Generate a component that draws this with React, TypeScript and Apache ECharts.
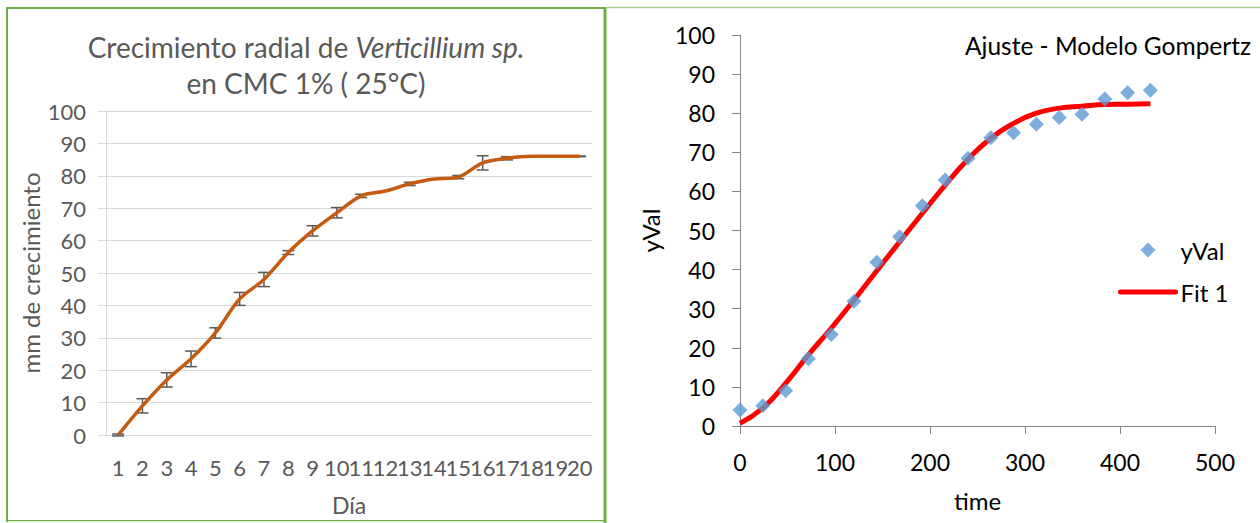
import React, { useEffect, useRef } from "react";
import * as echarts from "echarts";

// ---- Left chart data ----
const days = ["1","2","3","4","5","6","7","8","9","10","11","12","13","14","15","16","17","18","19","20"];
const growth = [0, 9, 17, 23.5, 31.5, 42, 48, 56.3, 63, 68.6, 73.8, 75.3, 77.5, 79, 79.6, 84, 85.4, 86, 86, 86];
const growthErr = [0.3, 2.2, 2.2, 2.4, 1.6, 2, 2.2, 0.6, 1.6, 1.6, 0.5, 0, 0.5, 0, 0.5, 2.2, 0.5, 0, 0, 0.1];

// ---- Right chart data ----
const timeH = [0, 24, 48, 72, 96, 120, 144, 168, 192, 216, 240, 264, 288, 312, 336, 360, 384, 408, 432];
const yVal = [4.1, 5.2, 9.0, 17.2, 23.4, 31.9, 41.9, 48.4, 56.3, 62.9, 68.5, 73.7, 75.0, 77.2, 78.9, 79.7, 83.6, 85.2, 85.9];
const fitVal = [0.7, 4.6, 10.9, 18.2, 25, 32.2, 39.7, 47.1, 54.4, 61.6, 68.2, 73.6, 77.4, 80.0, 81.3, 81.8, 82.2, 82.3, 82.4];

const FONT = "Lato";
const GREY = "#595959";
const DIAMOND = "path://M50,0 L100,50 L50,100 L0,50 Z";

export default function App() {
  const ref = useRef<HTMLDivElement>(null);
  useEffect(() => {
    document.body.style.margin = "0";
    const chart = echarts.init(ref.current!, null, { renderer: "svg" });
    const option: any = {
      animation: false,
      backgroundColor: "#ffffff",
      textStyle: { fontFamily: FONT },
      title: [
        {
          text: "Crecimiento radial de {i|Verticillium sp.}\nen CMC 1% ( 25°C)",
          left: 306,
          top: 29,
          padding: 0,
          textAlign: "center",
          textStyle: {
            fontFamily: FONT,
            fontSize: 28,
            fontWeight: "normal",
            color: GREY,
            lineHeight: 36,
            rich: {
              i: { fontFamily: FONT, fontSize: 28, fontStyle: "italic", color: GREY, lineHeight: 36 },
            },
          },
        },
        {
          text: "Ajuste - Modelo Gompertz",
          left: 965,
          top: 33,
          padding: 0,
          textStyle: { fontFamily: FONT, fontSize: 24.5, fontWeight: "normal", color: "#000000" },
        },
      ],
      legend: {
        orient: "vertical",
        left: 1118,
        top: 238,
        padding: 0,
        itemWidth: 55,
        itemHeight: 15,
        itemGap: 18,
        data: [
          { name: "yVal" },
          {
            name: "Fit 1",
            itemStyle: { opacity: 0, borderWidth: 0 },
            lineStyle: { color: "#FF0000", width: 5, cap: "round" },
          },
        ],
        textStyle: { fontFamily: FONT, fontSize: 24, color: "#000000", lineHeight: 24 },
      },
      grid: [
        { left: 106, top: 111, width: 486, height: 324 },
        { left: 740, top: 35, width: 475, height: 391 },
      ],
      xAxis: [
        {
          gridIndex: 0,
          type: "category",
          data: days,
          boundaryGap: true,
          name: "Día",
          nameLocation: "middle",
          nameGap: 58,
          nameTextStyle: { fontFamily: FONT, fontSize: 23, color: GREY },
          axisLine: { lineStyle: { color: "#D9D9D9", width: 1 } },
          axisTick: { show: false },
          axisLabel: { interval: 0, margin: 21, fontFamily: FONT, fontSize: 22, color: GREY },
          splitLine: { show: false },
        },
        {
          gridIndex: 1,
          type: "value",
          min: 0,
          max: 500,
          interval: 100,
          name: "time",
          nameLocation: "middle",
          nameGap: 62,
          nameTextStyle: { fontFamily: FONT, fontSize: 24, color: "#000000" },
          axisLine: { lineStyle: { color: "#868686", width: 1 } },
          axisTick: { show: true, inside: false, length: 8, lineStyle: { color: "#868686" } },
          axisLabel: { margin: 24, fontFamily: FONT, fontSize: 23, color: "#000000" },
          splitLine: { show: false },
        },
      ],
      yAxis: [
        {
          gridIndex: 0,
          type: "value",
          min: 0,
          max: 100,
          interval: 10,
          name: "mm de crecimiento",
          nameLocation: "middle",
          nameGap: 64,
          nameTextStyle: { fontFamily: FONT, fontSize: 24, color: GREY },
          axisLine: { show: true, lineStyle: { color: "#D9D9D9", width: 1 } },
          axisTick: { show: true, length: 8, lineStyle: { color: "#D9D9D9" } },
          axisLabel: { margin: 20, fontFamily: FONT, fontSize: 22, color: GREY },
          splitLine: { show: true, lineStyle: { color: "#D9D9D9", width: 1 } },
        },
        {
          gridIndex: 1,
          type: "value",
          min: 0,
          max: 100,
          interval: 10,
          name: "yVal",
          nameLocation: "middle",
          nameGap: 78,
          nameTextStyle: { fontFamily: FONT, fontSize: 24, color: "#000000" },
          axisLine: { show: true, lineStyle: { color: "#868686", width: 1 } },
          axisTick: { show: true, length: 8, lineStyle: { color: "#868686" } },
          axisLabel: { margin: 25, fontFamily: FONT, fontSize: 23, color: "#000000" },
          splitLine: { show: false },
        },
      ],
      series: [
        {
          name: "errors",
          type: "custom",
          xAxisIndex: 0,
          yAxisIndex: 0,
          z: 1,
          data: days.map((d, i) => [i, growth[i], growthErr[i]]),
          encode: { x: 0, y: 1 },
          renderItem: (params: any, api: any) => {
            const x = api.value(0);
            const v = api.value(1);
            const e = api.value(2);
            if (!e) return null;
            const top = api.coord([x, v + e]);
            const bot = api.coord([x, v - e]);
            const style = { stroke: "#595959", lineWidth: 1.5 };
            const hw = 6;
            return {
              type: "group",
              children: [
                { type: "line", shape: { x1: top[0], y1: top[1], x2: bot[0], y2: bot[1] }, style },
                { type: "line", shape: { x1: top[0] - hw, y1: top[1], x2: top[0] + hw, y2: top[1] }, style },
                { type: "line", shape: { x1: bot[0] - hw, y1: bot[1], x2: bot[0] + hw, y2: bot[1] }, style },
              ],
            };
          },
        },
        {
          name: "Crecimiento",
          type: "line",
          xAxisIndex: 0,
          yAxisIndex: 0,
          z: 2,
          data: growth,
          smooth: 0.3,
          symbol: "none",
          lineStyle: { color: "#C55A11", width: 3.5 },
        },
        {
          name: "yVal",
          type: "scatter",
          xAxisIndex: 1,
          yAxisIndex: 1,
          z: 3,
          symbol: DIAMOND,
          symbolKeepAspect: true,
          symbolSize: 15,
          data: timeH.map((t, i) => [t, yVal[i]]),
          itemStyle: { color: "#5B9BD5" },
        },
        {
          name: "Fit 1",
          type: "line",
          xAxisIndex: 1,
          yAxisIndex: 1,
          z: 2,
          smooth: true,
          symbol: "none",
          data: timeH.map((t, i) => [t, fitVal[i]]),
          lineStyle: { color: "#FF0000", width: 5 },
          itemStyle: { color: "#FF0000" },
        },
      ],
      graphic: [
        { type: "rect", shape: { x: 7, y: 8, width: 598, height: 513 }, style: { fill: "none", stroke: "#70AD47", lineWidth: 2 }, z: 0 },
        { type: "line", shape: { x1: 8, y1: 522, x2: 604, y2: 522 }, style: { stroke: "#E2EFDA", lineWidth: 2 } },
        { type: "line", shape: { x1: 606, y1: 7.5, x2: 1260, y2: 7.5 }, style: { stroke: "#A9D18E", lineWidth: 1.5 } },
        { type: "line", shape: { x1: 605, y1: 8, x2: 605, y2: 523 }, style: { stroke: "#70AD47", lineWidth: 3 } },
      ],
    };
    chart.setOption(option);
    return () => chart.dispose();
  }, []);
  return <div ref={ref} style={{ position: "fixed", left: 0, top: 0, width: 1260, height: 523 }} />;
}
